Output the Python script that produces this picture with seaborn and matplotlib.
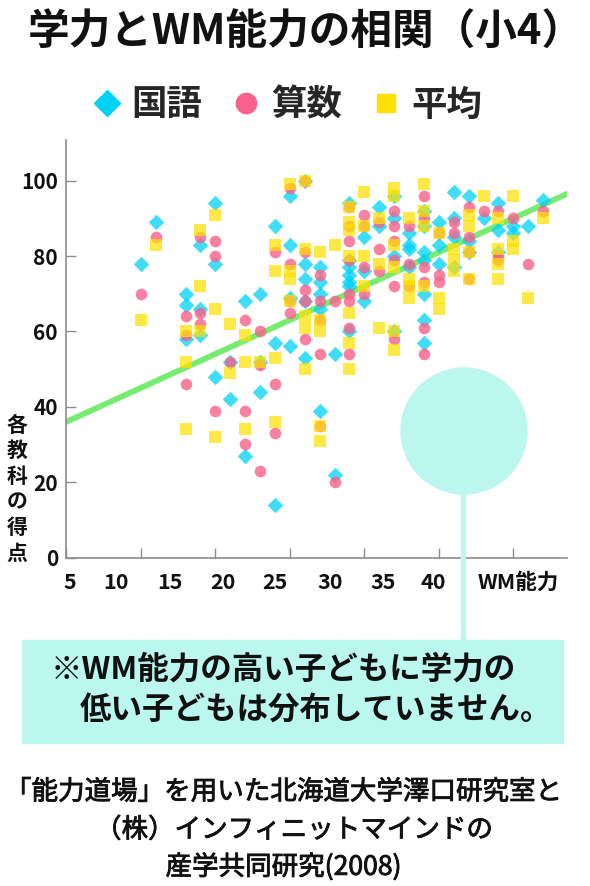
import pandas as pd
import matplotlib
matplotlib.use("Agg")
import matplotlib.pyplot as plt
import matplotlib.patheffects as pe
from matplotlib.lines import Line2D
from matplotlib.patches import Rectangle, Ellipse
import seaborn as sns

# scores, one entry per child (WM score, test score)
kokugo_wm = [10, 11, 13, 13, 13, 14, 14, 14, 15, 15, 15, 16, 16, 17, 17, 18, 18, 18,
             19, 19, 19, 20, 20, 20, 20, 21, 21, 21, 21, 21, 22, 22, 22, 22, 22, 23, 23,
             24, 24, 24, 24, 24, 24, 24, 25, 25, 25, 26, 26, 27, 27, 27, 27, 28, 28, 28, 28,
             29, 29, 29, 29, 29, 29, 29, 30, 30, 30, 31, 31, 31, 31, 32, 32, 32, 33,
             34, 34, 34, 35, 35, 36, 37]
kokugo = [78, 89, 70, 67, 58, 83, 66, 59, 94, 78, 48, 52, 42, 68, 27, 70, 52, 44,
          88, 57, 14, 96, 83, 69, 56, 100, 78, 74, 68, 53, 77, 73, 70, 66, 39, 54, 22,
          94, 79, 77, 75, 73, 72, 60, 85, 76, 68, 93, 88, 96, 90, 80, 60, 86, 83, 82, 77,
          92, 88, 81, 79, 70, 63, 57, 89, 83, 78, 97, 90, 85, 77, 96, 84, 81, 90,
          94, 87, 81, 88, 86, 88, 95]

sansu_wm = [10, 11, 13, 13, 13, 14, 14, 14, 15, 15, 15, 16, 17, 17, 17, 18, 18, 18,
            19, 19, 19, 20, 20, 20, 20, 21, 21, 21, 21, 21, 22, 22, 22, 22, 22, 23, 23,
            24, 24, 24, 24, 24, 24, 24, 24, 25, 25, 25, 25, 26, 26, 26,
            27, 27, 27, 27, 27, 27, 28, 28, 28, 29, 29, 29, 29, 29, 29, 30, 30, 30,
            31, 31, 32, 32, 32, 32, 33, 34, 34, 34, 35, 36, 37]
sansu = [70, 85, 64, 59, 46, 85, 65, 62, 84, 80, 39, 52, 63, 39, 30, 60, 51, 23,
         81, 46, 33, 98, 78, 68, 65, 100, 81, 71, 68, 58, 75, 68, 63, 54, 35, 68, 20,
         93, 88, 84, 79, 70, 68, 61, 54, 91, 88, 77, 70, 89, 82, 76,
         92, 88, 84, 79, 72, 58, 88, 78, 72, 96, 90, 77, 73, 61, 54, 86, 75, 73,
         89, 86, 93, 85, 81, 74, 92, 92, 80, 79, 90, 78, 92]

heikin_wm = [10, 11, 13, 13, 13, 14, 14, 14, 15, 15, 15, 16, 16, 17, 17, 17, 18,
             19, 19, 19, 19, 20, 20, 20, 20, 21, 21, 21, 21, 21, 22, 22, 22, 22, 22, 23,
             24, 24, 24, 24, 24, 24, 24, 25, 25, 25, 25, 26, 26, 26,
             27, 27, 27, 27, 27, 27, 28, 28, 28, 28, 29, 29, 29, 29, 30, 30, 30,
             31, 31, 31, 32, 32, 32, 32, 33, 34, 34, 34, 34, 35, 35, 35, 36, 37]
heikin = [63, 83, 60, 52, 34, 87, 72, 60, 91, 66, 32, 62, 49, 59, 52, 34, 52,
          83, 76, 53, 36, 99, 76, 74, 68, 100, 82, 64, 61, 50, 81, 63, 60, 35, 31, 83,
          93, 89, 87, 80, 65, 57, 50, 97, 88, 80, 72, 90, 78, 61,
          98, 96, 83, 77, 60, 55, 90, 74, 72, 69, 99, 92, 88, 72, 86, 69, 66,
          82, 79, 76, 91, 88, 81, 74, 96, 90, 82, 78, 74, 96, 84, 82, 69, 90]

# trend line as drawn on the chart (ends of the axis)
trend_wm = [5, 38.6]
trend_score = [36.0, 96.5]

series_names = ["国語", "算数", "平均"]
title = "学力とWM能力の相関（小4）"
xtick_labels = ["5", "10", "15", "20", "25", "30", "35", "40", "WM能力"]
ylabel_text = "各教科の得点"
note_lines = ["※WM能力の高い子どもに学力の", "低い子どもは分布していません。"]
source_lines = ["「能力道場」を用いた北海道大学澤口研究室と",
                "（株）インフィニットマインドの",
                "産学共同研究(2008)"]

CYAN, PINK, YELLOW = "#00D2F6", "#F7618A", "#FFE100"
ANNOT = "#BBF7EF"
GRID = "#8c8c8c"
INK = "#111111"

sns.set_theme(style="ticks")
plt.rcParams["font.family"] = ["Noto Sans CJK JP", "DejaVu Sans"]

W, H = 590, 886
fig = plt.figure(figsize=(W / 100, H / 100), dpi=100)
ax = fig.add_axes([66.3 / W, 1 - 557.5 / H, (567 - 66.3) / W, (557.5 - 140) / H])

sns.lineplot(x=trend_wm, y=trend_score, ax=ax, color="#78EC70", lw=4.2, zorder=2)

sns.scatterplot(x=kokugo_wm, y=kokugo, ax=ax, marker="D", s=62, color=CYAN,
                alpha=0.75, linewidth=0, zorder=3)
sns.scatterplot(x=sansu_wm, y=sansu, ax=ax, marker="o", s=70, color=PINK,
                alpha=0.8, linewidth=0, zorder=3)
sns.scatterplot(x=heikin_wm, y=heikin, ax=ax, marker="s", s=64, color=YELLOW,
                alpha=0.72, linewidth=0, zorder=3)

ax.set_xlim(5, 38.6)
ax.set_ylim(0, 110.8)
ax.set_xticks(range(5, 40, 5))
ax.set_xticklabels([])
ax.set_yticks(range(0, 101, 20))
ax.tick_params(axis="both", direction="in", length=7, width=1, color=GRID)
ax.tick_params(axis="y", labelsize=15, pad=6, labelcolor=INK)
for lbl in ax.get_yticklabels():
    lbl.set_fontweight("bold")
sns.despine(ax=ax)
for side in ["left", "bottom"]:
    ax.spines[side].set_color(GRID)
    ax.spines[side].set_linewidth(1.2)
ax.set_xlabel("")
ax.set_ylabel("")

# x labels sit off the tick marks on the original, place them where they are
xlab_px = [70, 116, 169.5, 223, 275, 330, 383, 433, 518]
for px, t in zip(xlab_px, xtick_labels):
    ax.text(5 + (px - 66.3) / 14.91, -0.059, t, transform=ax.get_xaxis_transform(),
            ha="center", va="center", fontsize=15.5, fontweight="bold", color=INK)

for i, ch in enumerate(ylabel_text):
    fig.text(17 / W, 1 - (425 + 25.6 * i) / H, ch, ha="center", va="center",
             fontsize=15, fontweight="bold", color=INK)

fig.text(28 / W, 1 - 33 / H, title, ha="left", va="center",
         fontsize=30, fontweight="bold", color=INK)

handles = [Line2D([], [], ls="", marker="D", markersize=13.5, color=CYAN),
           Line2D([], [], ls="", marker="o", markersize=14.6, color=PINK),
           Line2D([], [], ls="", marker="s", markersize=12.4, color=YELLOW)]
fig.legend(handles, series_names, loc="center", bbox_to_anchor=(287 / W, 1 - 105 / H),
           ncol=3, frameon=False, prop={"size": 25.5, "weight": "bold"},
           handlelength=0.8, handletextpad=0.3, columnspacing=0.85)

# callout: bubble over the empty corner, stem, and note box
fig.add_artist(Ellipse((464 / W, 1 - 431 / H), 2 * 63 / W, 2 * 63 / H,
                       transform=fig.transFigure, color=ANNOT, zorder=5))
fig.add_artist(Line2D([463 / W, 463 / W], [1 - 480 / H, 1 - 645 / H], color=ANNOT,
                      lw=3.8, transform=fig.transFigure, zorder=5))
fig.add_artist(Rectangle((22 / W, 1 - 743 / H), (563 - 22) / W, (743 - 640) / H,
                         transform=fig.transFigure, color=ANNOT, zorder=5))
fig.text(51 / W, 1 - 670 / H, note_lines[0], ha="left", va="center", fontsize=22.7,
         fontweight="bold", color=INK, zorder=6)
fig.text(79.5 / W, 1 - 710 / H, note_lines[1], ha="left", va="center", fontsize=22.7,
         fontweight="bold", color=INK, zorder=6)

# source lines: medium weight imitated with a hairline stroke
src_x = [5, 95, 165.5]
src_y = [792, 830, 867]
for x, y, line in zip(src_x, src_y, source_lines):
    fig.text(x / W, 1 - y / H, line, ha="left", va="center", fontsize=19.1,
             color=INK, path_effects=[pe.withStroke(linewidth=0.6, foreground=INK)])

fig.savefig("out.png", dpi=100)
